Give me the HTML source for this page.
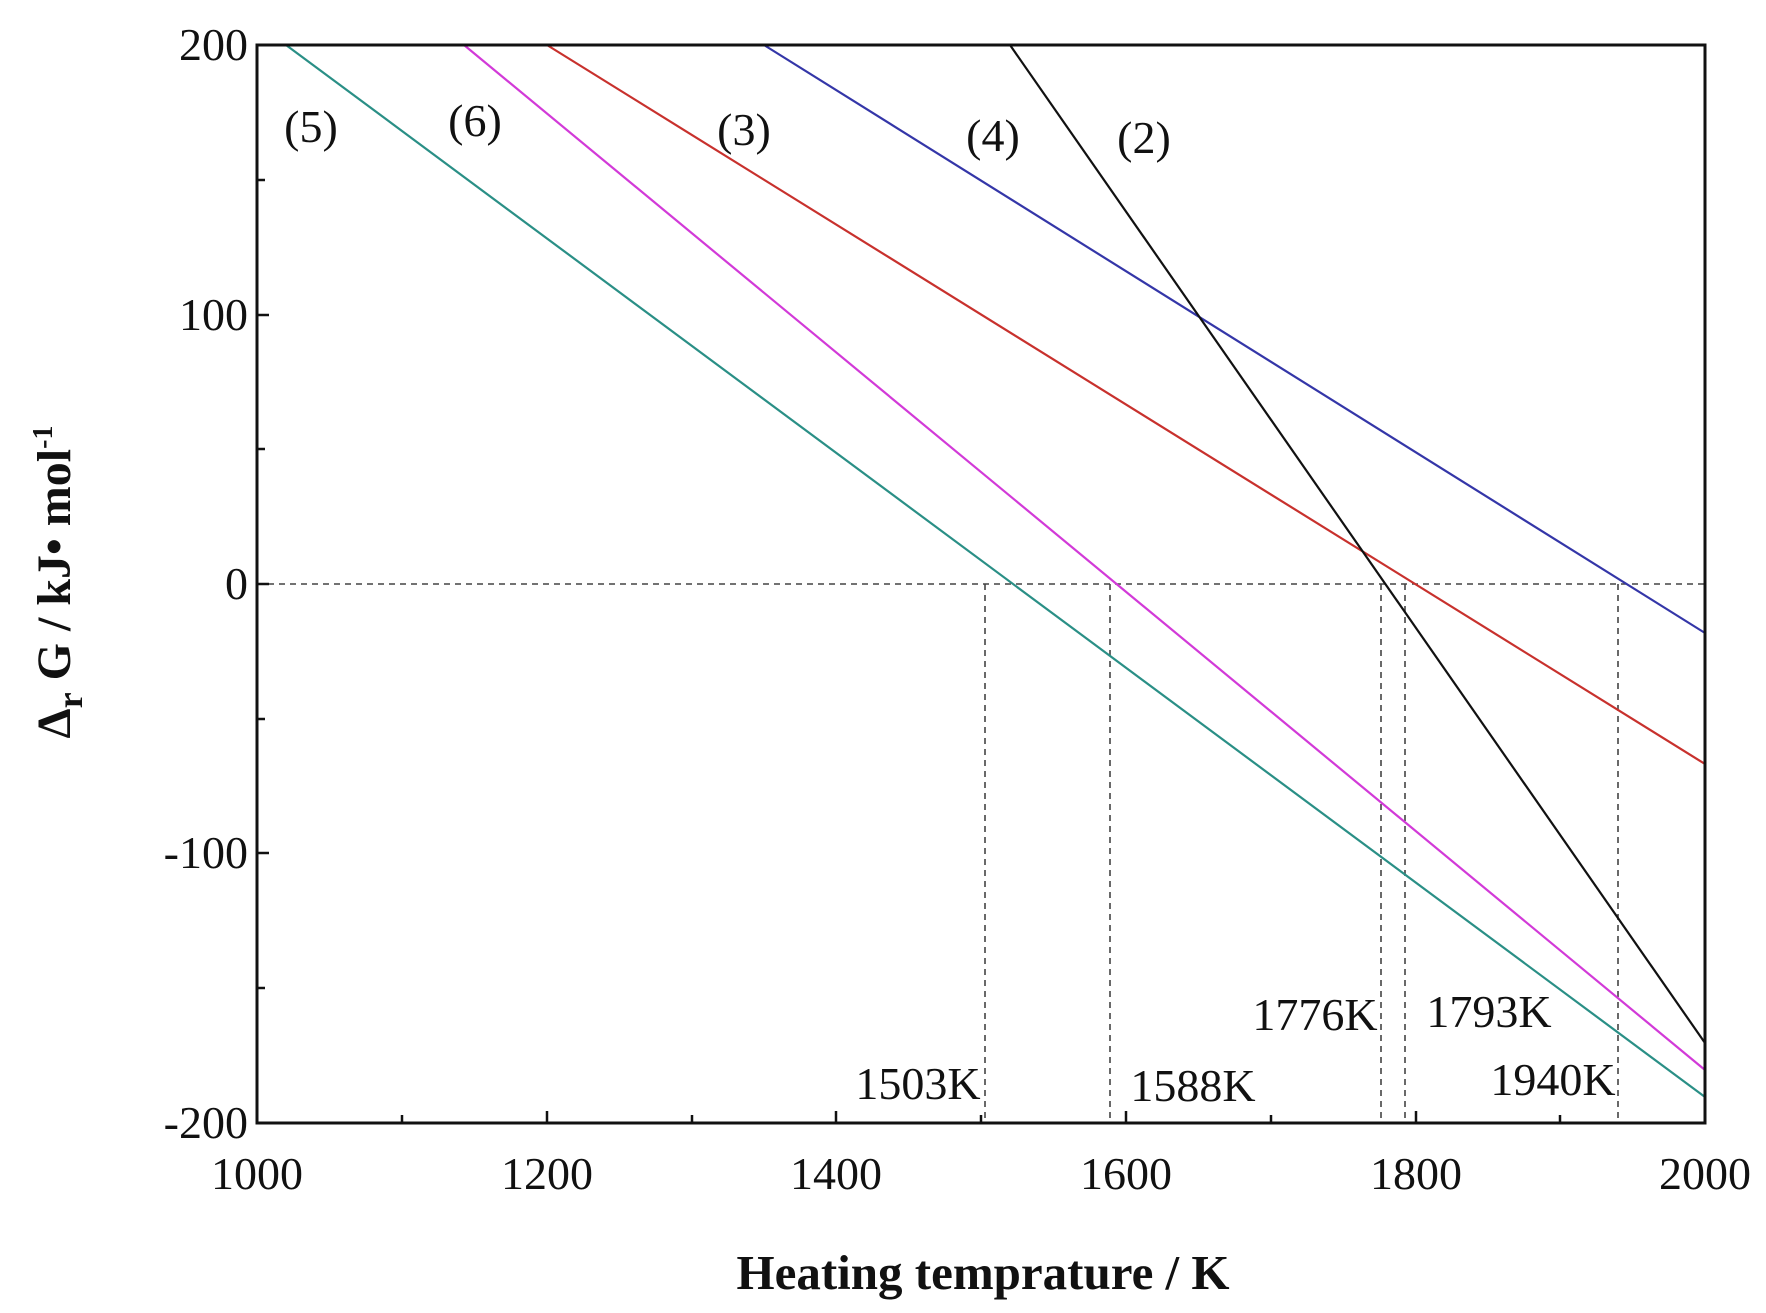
<!DOCTYPE html>
<html><head><meta charset="utf-8"><style>
html,body{margin:0;padding:0;background:#fff;}
svg{display:block;}
text{font-family:"Liberation Serif",serif;fill:#111;}
</style></head><body>
<svg width="1766" height="1313" viewBox="0 0 1766 1313" xmlns="http://www.w3.org/2000/svg">
<g stroke="#444" stroke-width="1.6" stroke-dasharray="6,5" fill="none">
<line x1="257" y1="584" x2="1705" y2="584"/>
<line x1="985" y1="584" x2="985" y2="1123"/>
<line x1="1110" y1="584" x2="1110" y2="1123"/>
<line x1="1381" y1="584" x2="1381" y2="1123"/>
<line x1="1405" y1="584" x2="1405" y2="1123"/>
<line x1="1618" y1="584" x2="1618" y2="1123"/>
</g>
<g fill="none" stroke-width="2.2">
<line x1="286" y1="45" x2="1705" y2="1097" stroke="#2a8f86"/>
<line x1="464" y1="45" x2="1705" y2="1070" stroke="#d23ad8"/>
<line x1="547" y1="45" x2="1705" y2="764" stroke="#c8312d"/>
<line x1="764" y1="45" x2="1705" y2="633" stroke="#3436a8"/>
<line x1="1010" y1="45" x2="1705" y2="1043" stroke="#111"/>
</g>
<rect x="257" y="45" width="1448" height="1078" fill="none" stroke="#111" stroke-width="3"/>
<g stroke="#111" stroke-width="2.5">
<line x1="402" y1="1123" x2="402" y2="1115"/>
<line x1="547" y1="1123" x2="547" y2="1111"/>
<line x1="692" y1="1123" x2="692" y2="1115"/>
<line x1="836" y1="1123" x2="836" y2="1111"/>
<line x1="981" y1="1123" x2="981" y2="1115"/>
<line x1="1126" y1="1123" x2="1126" y2="1111"/>
<line x1="1271" y1="1123" x2="1271" y2="1115"/>
<line x1="1416" y1="1123" x2="1416" y2="1111"/>
<line x1="1560" y1="1123" x2="1560" y2="1115"/>
<line x1="257" y1="180" x2="265" y2="180"/>
<line x1="257" y1="315" x2="269" y2="315"/>
<line x1="257" y1="449" x2="265" y2="449"/>
<line x1="257" y1="584" x2="269" y2="584"/>
<line x1="257" y1="719" x2="265" y2="719"/>
<line x1="257" y1="853" x2="269" y2="853"/>
<line x1="257" y1="988" x2="265" y2="988"/>
</g>
<g font-size="46" text-anchor="end">
<text x="248" y="60">200</text>
<text x="248" y="330">100</text>
<text x="248" y="599">0</text>
<text x="248" y="868">-100</text>
<text x="248" y="1138">-200</text>
</g>
<g font-size="46" text-anchor="middle">
<text x="257" y="1189">1000</text>
<text x="547" y="1189">1200</text>
<text x="836" y="1189">1400</text>
<text x="1126" y="1189">1600</text>
<text x="1416" y="1189">1800</text>
<text x="1705" y="1189">2000</text>
</g>
<g font-size="46" text-anchor="middle">
<text x="311" y="142">(5)</text>
<text x="475" y="136">(6)</text>
<text x="744" y="145">(3)</text>
<text x="993" y="151">(4)</text>
<text x="1144" y="153">(2)</text>
<text x="918" y="1099">1503K</text>
<text x="1193" y="1101">1588K</text>
<text x="1315" y="1030">1776K</text>
<text x="1489" y="1027">1793K</text>
<text x="1553" y="1095">1940K</text>
</g>
<text x="983" y="1289" font-size="49" font-weight="bold" text-anchor="middle">Heating temprature / K</text>
<text transform="translate(70,582) rotate(-90)" font-size="48" font-weight="bold" text-anchor="middle">Δ<tspan font-size="36" dy="12">r</tspan><tspan dy="-12"> G / kJ• mol</tspan><tspan font-size="28" dy="-18">-1</tspan></text>
</svg>
</body></html>
